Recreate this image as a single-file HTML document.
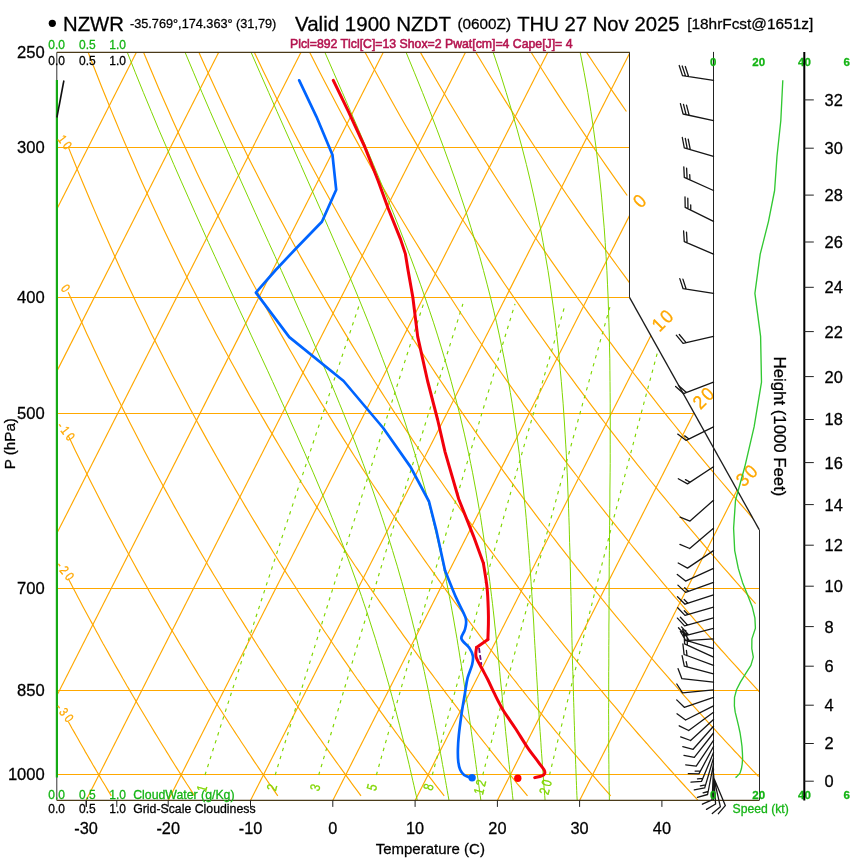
<!DOCTYPE html>
<html><head><meta charset="utf-8"><title>Skew-T NZWR</title>
<style>
html,body{margin:0;padding:0;background:#fff;}
body{width:850px;height:860px;overflow:hidden;font-family:"Liberation Sans",sans-serif;}
svg{display:block;font-family:"Liberation Sans",sans-serif;will-change:transform;}
</style></head><body>
<svg width="850" height="860" viewBox="0 0 850 860">
<rect width="850" height="860" fill="#fff"/>
<defs><clipPath id="cp"><polygon points="56.8,52.4 629.9,52.4 629.9,297.4 759.2,529.6 759.2,800.4 56.8,800.4"/></clipPath></defs>
<g clip-path="url(#cp)" stroke-width="1.15">
<line x1="56.8" y1="147.5" x2="759.2" y2="147.5" stroke="#ffa800" stroke-width="1"/>
<line x1="56.8" y1="297.5" x2="759.2" y2="297.5" stroke="#ffa800" stroke-width="1"/>
<line x1="56.8" y1="413.5" x2="759.2" y2="413.5" stroke="#ffa800" stroke-width="1"/>
<line x1="56.8" y1="588.5" x2="759.2" y2="588.5" stroke="#ffa800" stroke-width="1"/>
<line x1="56.8" y1="690.5" x2="759.2" y2="690.5" stroke="#ffa800" stroke-width="1"/>
<line x1="56.8" y1="774.5" x2="759.2" y2="774.5" stroke="#ffa800" stroke-width="1"/>
<path d="M-654.5 800.4 L-275.1 52.4" fill="none" stroke="#ffa800"/>
<path d="M-572.2 800.4 L-192.8 52.4" fill="none" stroke="#ffa800"/>
<path d="M-490.0 800.4 L-110.5 52.4" fill="none" stroke="#ffa800"/>
<path d="M-407.7 800.4 L-28.2 52.4" fill="none" stroke="#ffa800"/>
<path d="M-325.4 800.4 L54.1 52.4" fill="none" stroke="#ffa800"/>
<path d="M-243.1 800.4 L136.3 52.4" fill="none" stroke="#ffa800"/>
<path d="M-160.9 800.4 L218.6 52.4" fill="none" stroke="#ffa800"/>
<path d="M-78.6 800.4 L300.9 52.4" fill="none" stroke="#ffa800"/>
<path d="M3.7 800.4 L383.2 52.4" fill="none" stroke="#ffa800"/>
<path d="M86.0 800.4 L465.4 52.4" fill="none" stroke="#ffa800"/>
<path d="M168.2 800.4 L547.7 52.4" fill="none" stroke="#ffa800"/>
<path d="M250.5 800.4 L630.0 52.4" fill="none" stroke="#ffa800"/>
<path d="M332.8 800.4 L712.3 52.4" fill="none" stroke="#ffa800"/>
<path d="M415.1 800.4 L794.5 52.4" fill="none" stroke="#ffa800"/>
<path d="M497.4 800.4 L876.8 52.4" fill="none" stroke="#ffa800"/>
<path d="M579.6 800.4 L959.1 52.4" fill="none" stroke="#ffa800"/>
<path d="M111.3 795.9 L109.5 792.9 L107.7 789.9 L105.9 786.8 L104.1 783.8 L102.2 780.7 L100.4 777.6 L98.6 774.4 L96.7 771.3 L94.9 768.1 L93.0 765.0 L91.2 761.8 L89.3 758.6 L87.4 755.3 L85.5 752.1 L83.7 748.8 L81.8 745.5 L79.9 742.2 L78.0 738.8 L76.1 735.5 L74.2 732.1 L72.2 728.7 L70.3 725.2 L68.4 721.8 L68.2 721.4" fill="none" stroke="#ffa800"/>
<path d="M194.6 795.9 L192.6 792.9 L190.7 789.9 L188.7 786.8 L186.7 783.8 L184.8 780.7 L182.8 777.6 L180.8 774.4 L178.8 771.3 L176.8 768.1 L174.8 765.0 L172.8 761.8 L170.8 758.6 L168.8 755.3 L166.8 752.1 L164.8 748.8 L162.7 745.5 L160.7 742.2 L158.6 738.8 L156.6 735.5 L154.5 732.1 L152.5 728.7 L150.4 725.2 L148.3 721.8 L146.2 718.3 L144.1 714.8 L142.0 711.3 L139.9 707.7 L137.8 704.2 L135.7 700.6 L133.6 697.0 L131.4 693.3 L129.3 689.6 L127.1 686.0 L125.0 682.2 L122.8 678.5 L120.7 674.7 L118.5 670.9 L116.3 667.1 L114.1 663.2 L111.9 659.3 L109.7 655.4 L107.5 651.4 L105.3 647.5 L103.0 643.5 L100.8 639.4 L98.6 635.3 L96.3 631.2 L94.1 627.1 L91.8 622.9 L89.5 618.7 L87.2 614.5 L84.9 610.2 L82.6 605.9 L80.3 601.6 L78.0 597.2 L75.7 592.8 L73.3 588.3 L71.0 583.8 L68.6 579.3 L68.2 578.4" fill="none" stroke="#ffa800"/>
<path d="M277.8 795.9 L275.7 792.9 L273.6 789.9 L271.5 786.8 L269.4 783.8 L267.3 780.7 L265.2 777.6 L263.1 774.4 L260.9 771.3 L258.8 768.1 L256.7 765.0 L254.5 761.8 L252.4 758.6 L250.2 755.3 L248.0 752.1 L245.9 748.8 L243.7 745.5 L241.5 742.2 L239.3 738.8 L237.1 735.5 L234.9 732.1 L232.7 728.7 L230.4 725.2 L228.2 721.8 L226.0 718.3 L223.7 714.8 L221.5 711.3 L219.2 707.7 L217.0 704.2 L214.7 700.6 L212.4 697.0 L210.1 693.3 L207.8 689.6 L205.5 686.0 L203.2 682.2 L200.9 678.5 L198.5 674.7 L196.2 670.9 L193.9 667.1 L191.5 663.2 L189.1 659.3 L186.8 655.4 L184.4 651.4 L182.0 647.5 L179.6 643.5 L177.2 639.4 L174.8 635.3 L172.4 631.2 L169.9 627.1 L167.5 622.9 L165.0 618.7 L162.6 614.5 L160.1 610.2 L157.6 605.9 L155.1 601.6 L152.6 597.2 L150.1 592.8 L147.6 588.3 L145.1 583.8 L142.5 579.3 L140.0 574.7 L137.4 570.1 L134.9 565.5 L132.3 560.8 L129.7 556.0 L127.1 551.2 L124.5 546.4 L121.9 541.5 L119.2 536.6 L116.6 531.7 L113.9 526.6 L111.3 521.6 L108.6 516.5 L105.9 511.3 L103.2 506.1 L100.5 500.8 L97.8 495.5 L95.0 490.1 L92.3 484.7 L89.5 479.2 L86.8 473.7 L84.0 468.1 L81.2 462.4 L78.4 456.7 L75.5 450.9 L72.7 445.0 L69.9 439.1 L68.2 435.7" fill="none" stroke="#ffa800"/>
<path d="M361.0 795.9 L358.8 792.9 L356.6 789.9 L354.3 786.8 L352.1 783.8 L349.8 780.7 L347.6 777.6 L345.3 774.4 L343.1 771.3 L340.8 768.1 L338.5 765.0 L336.2 761.8 L333.9 758.6 L331.6 755.3 L329.3 752.1 L327.0 748.8 L324.6 745.5 L322.3 742.2 L320.0 738.8 L317.6 735.5 L315.3 732.1 L312.9 728.7 L310.5 725.2 L308.1 721.8 L305.7 718.3 L303.3 714.8 L300.9 711.3 L298.5 707.7 L296.1 704.2 L293.7 700.6 L291.2 697.0 L288.8 693.3 L286.3 689.6 L283.9 686.0 L281.4 682.2 L278.9 678.5 L276.4 674.7 L273.9 670.9 L271.4 667.1 L268.9 663.2 L266.4 659.3 L263.8 655.4 L261.3 651.4 L258.7 647.5 L256.2 643.5 L253.6 639.4 L251.0 635.3 L248.4 631.2 L245.8 627.1 L243.2 622.9 L240.6 618.7 L237.9 614.5 L235.3 610.2 L232.6 605.9 L230.0 601.6 L227.3 597.2 L224.6 592.8 L221.9 588.3 L219.2 583.8 L216.5 579.3 L213.7 574.7 L211.0 570.1 L208.2 565.5 L205.5 560.8 L202.7 556.0 L199.9 551.2 L197.1 546.4 L194.3 541.5 L191.4 536.6 L188.6 531.7 L185.8 526.6 L182.9 521.6 L180.0 516.5 L177.1 511.3 L174.2 506.1 L171.3 500.8 L168.4 495.5 L165.4 490.1 L162.5 484.7 L159.5 479.2 L156.5 473.7 L153.5 468.1 L150.5 462.4 L147.5 456.7 L144.4 450.9 L141.4 445.0 L138.3 439.1 L135.2 433.1 L132.1 427.1 L129.0 420.9 L125.9 414.7 L122.7 408.4 L119.5 402.1 L116.3 395.7 L113.1 389.1 L109.9 382.5 L106.7 375.9 L103.4 369.1 L100.2 362.2 L96.9 355.3 L93.6 348.2 L90.3 341.1 L86.9 333.9 L83.6 326.5 L80.2 319.1 L76.8 311.5 L73.4 303.9 L69.9 296.1 L68.2 292.2" fill="none" stroke="#ffa800"/>
<path d="M444.2 795.9 L441.9 792.9 L439.5 789.9 L437.1 786.8 L434.8 783.8 L432.4 780.7 L430.0 777.6 L427.6 774.4 L425.2 771.3 L422.7 768.1 L420.3 765.0 L417.9 761.8 L415.4 758.6 L413.0 755.3 L410.5 752.1 L408.1 748.8 L405.6 745.5 L403.1 742.2 L400.6 738.8 L398.1 735.5 L395.6 732.1 L393.1 728.7 L390.6 725.2 L388.0 721.8 L385.5 718.3 L383.0 714.8 L380.4 711.3 L377.8 707.7 L375.2 704.2 L372.7 700.6 L370.1 697.0 L367.5 693.3 L364.8 689.6 L362.2 686.0 L359.6 682.2 L356.9 678.5 L354.3 674.7 L351.6 670.9 L349.0 667.1 L346.3 663.2 L343.6 659.3 L340.9 655.4 L338.2 651.4 L335.4 647.5 L332.7 643.5 L330.0 639.4 L327.2 635.3 L324.4 631.2 L321.7 627.1 L318.9 622.9 L316.1 618.7 L313.3 614.5 L310.5 610.2 L307.6 605.9 L304.8 601.6 L301.9 597.2 L299.0 592.8 L296.2 588.3 L293.3 583.8 L290.4 579.3 L287.5 574.7 L284.5 570.1 L281.6 565.5 L278.6 560.8 L275.7 556.0 L272.7 551.2 L269.7 546.4 L266.7 541.5 L263.6 536.6 L260.6 531.7 L257.6 526.6 L254.5 521.6 L251.4 516.5 L248.3 511.3 L245.2 506.1 L242.1 500.8 L239.0 495.5 L235.8 490.1 L232.7 484.7 L229.5 479.2 L226.3 473.7 L223.1 468.1 L219.8 462.4 L216.6 456.7 L213.3 450.9 L210.0 445.0 L206.7 439.1 L203.4 433.1 L200.1 427.1 L196.8 420.9 L193.4 414.7 L190.0 408.4 L186.6 402.1 L183.2 395.7 L179.7 389.1 L176.3 382.5 L172.8 375.9 L169.3 369.1 L165.8 362.2 L162.3 355.3 L158.7 348.2 L155.1 341.1 L151.5 333.9 L147.9 326.5 L144.3 319.1 L140.6 311.5 L136.9 303.9 L133.2 296.1 L129.5 288.2 L125.7 280.2 L121.9 272.0 L118.1 263.7 L114.3 255.3 L110.5 246.8 L106.6 238.1 L102.7 229.3 L98.7 220.3 L94.8 211.1 L90.8 201.8 L86.8 192.3 L82.8 182.7 L78.7 172.9 L74.6 162.8 L70.5 152.6 L68.2 146.8" fill="none" stroke="#ffa800"/>
<path d="M527.5 795.9 L525.0 792.9 L522.5 789.9 L520.0 786.8 L517.4 783.8 L514.9 780.7 L512.4 777.6 L509.8 774.4 L507.3 771.3 L504.7 768.1 L502.1 765.0 L499.6 761.8 L497.0 758.6 L494.4 755.3 L491.8 752.1 L489.2 748.8 L486.6 745.5 L483.9 742.2 L481.3 738.8 L478.6 735.5 L476.0 732.1 L473.3 728.7 L470.6 725.2 L468.0 721.8 L465.3 718.3 L462.6 714.8 L459.8 711.3 L457.1 707.7 L454.4 704.2 L451.7 700.6 L448.9 697.0 L446.1 693.3 L443.4 689.6 L440.6 686.0 L437.8 682.2 L435.0 678.5 L432.2 674.7 L429.3 670.9 L426.5 667.1 L423.7 663.2 L420.8 659.3 L417.9 655.4 L415.1 651.4 L412.2 647.5 L409.3 643.5 L406.4 639.4 L403.4 635.3 L400.5 631.2 L397.5 627.1 L394.6 622.9 L391.6 618.7 L388.6 614.5 L385.6 610.2 L382.6 605.9 L379.6 601.6 L376.6 597.2 L373.5 592.8 L370.4 588.3 L367.4 583.8 L364.3 579.3 L361.2 574.7 L358.1 570.1 L354.9 565.5 L351.8 560.8 L348.6 556.0 L345.5 551.2 L342.3 546.4 L339.1 541.5 L335.9 536.6 L332.6 531.7 L329.4 526.6 L326.1 521.6 L322.8 516.5 L319.5 511.3 L316.2 506.1 L312.9 500.8 L309.6 495.5 L306.2 490.1 L302.8 484.7 L299.4 479.2 L296.0 473.7 L292.6 468.1 L289.2 462.4 L285.7 456.7 L282.2 450.9 L278.7 445.0 L275.2 439.1 L271.7 433.1 L268.1 427.1 L264.5 420.9 L260.9 414.7 L257.3 408.4 L253.7 402.1 L250.0 395.7 L246.3 389.1 L242.6 382.5 L238.9 375.9 L235.2 369.1 L231.4 362.2 L227.6 355.3 L223.8 348.2 L220.0 341.1 L216.1 333.9 L212.3 326.5 L208.3 319.1 L204.4 311.5 L200.5 303.9 L196.5 296.1 L192.5 288.2 L188.4 280.2 L184.4 272.0 L180.3 263.7 L176.2 255.3 L172.1 246.8 L167.9 238.1 L163.7 229.3 L159.5 220.3 L155.2 211.1 L150.9 201.8 L146.6 192.3 L142.2 182.7 L137.9 172.9 L133.5 162.8 L129.0 152.6 L124.5 142.2 L120.0 131.6 L115.5 120.7 L110.9 109.6 L106.3 98.3 L101.6 86.7 L96.9 74.8 L92.2 62.7 L87.4 50.3 L84.2 41.9" fill="none" stroke="#ffa800"/>
<path d="M610.7 795.9 L608.1 792.9 L605.4 789.9 L602.8 786.8 L600.1 783.8 L597.4 780.7 L594.8 777.6 L592.1 774.4 L589.4 771.3 L586.7 768.1 L584.0 765.0 L581.3 761.8 L578.5 758.6 L575.8 755.3 L573.0 752.1 L570.3 748.8 L567.5 745.5 L564.7 742.2 L561.9 738.8 L559.2 735.5 L556.3 732.1 L553.5 728.7 L550.7 725.2 L547.9 721.8 L545.0 718.3 L542.2 714.8 L539.3 711.3 L536.4 707.7 L533.5 704.2 L530.6 700.6 L527.7 697.0 L524.8 693.3 L521.9 689.6 L518.9 686.0 L516.0 682.2 L513.0 678.5 L510.0 674.7 L507.1 670.9 L504.1 667.1 L501.1 663.2 L498.0 659.3 L495.0 655.4 L492.0 651.4 L488.9 647.5 L485.8 643.5 L482.7 639.4 L479.6 635.3 L476.5 631.2 L473.4 627.1 L470.3 622.9 L467.1 618.7 L464.0 614.5 L460.8 610.2 L457.6 605.9 L454.4 601.6 L451.2 597.2 L448.0 592.8 L444.7 588.3 L441.5 583.8 L438.2 579.3 L434.9 574.7 L431.6 570.1 L428.3 565.5 L425.0 560.8 L421.6 556.0 L418.2 551.2 L414.9 546.4 L411.5 541.5 L408.1 536.6 L404.6 531.7 L401.2 526.6 L397.7 521.6 L394.2 516.5 L390.7 511.3 L387.2 506.1 L383.7 500.8 L380.2 495.5 L376.6 490.1 L373.0 484.7 L369.4 479.2 L365.8 473.7 L362.1 468.1 L358.5 462.4 L354.8 456.7 L351.1 450.9 L347.4 445.0 L343.6 439.1 L339.9 433.1 L336.1 427.1 L332.3 420.9 L328.5 414.7 L324.6 408.4 L320.7 402.1 L316.9 395.7 L312.9 389.1 L309.0 382.5 L305.0 375.9 L301.0 369.1 L297.0 362.2 L293.0 355.3 L288.9 348.2 L284.9 341.1 L280.7 333.9 L276.6 326.5 L272.4 319.1 L268.2 311.5 L264.0 303.9 L259.8 296.1 L255.5 288.2 L251.2 280.2 L246.8 272.0 L242.5 263.7 L238.1 255.3 L233.7 246.8 L229.2 238.1 L224.7 229.3 L220.2 220.3 L215.6 211.1 L211.0 201.8 L206.4 192.3 L201.7 182.7 L197.0 172.9 L192.3 162.8 L187.5 152.6 L182.7 142.2 L177.8 131.6 L172.9 120.7 L168.0 109.6 L163.0 98.3 L158.0 86.7 L153.0 74.8 L147.9 62.7 L142.7 50.3 L139.3 41.9" fill="none" stroke="#ffa800"/>
<path d="M697.8 800.2 L695.1 797.2 L692.3 794.2 L689.5 791.1 L686.7 788.1 L683.9 785.0 L681.1 782.0 L678.3 778.9 L675.5 775.8 L672.7 772.6 L669.8 769.5 L667.0 766.3 L664.1 763.1 L661.3 759.9 L658.4 756.7 L655.5 753.4 L652.6 750.2 L649.7 746.9 L646.8 743.5 L643.8 740.2 L640.9 736.9 L637.9 733.5 L635.0 730.1 L632.0 726.7 L629.0 723.2 L626.0 719.8 L623.0 716.3 L620.0 712.8 L617.0 709.2 L614.0 705.7 L610.9 702.1 L607.8 698.5 L604.8 694.8 L601.7 691.2 L598.6 687.5 L595.5 683.8 L592.4 680.0 L589.2 676.3 L586.1 672.5 L582.9 668.7 L579.8 664.8 L576.6 660.9 L573.4 657.0 L570.2 653.1 L567.0 649.1 L563.7 645.1 L560.5 641.1 L557.2 637.0 L553.9 633.0 L550.7 628.8 L547.4 624.7 L544.0 620.5 L540.7 616.3 L537.4 612.0 L534.0 607.7 L530.6 603.4 L527.2 599.0 L523.8 594.6 L520.4 590.2 L517.0 585.7 L513.5 581.2 L510.1 576.6 L506.6 572.0 L503.1 567.4 L499.6 562.7 L496.1 558.0 L492.5 553.2 L488.9 548.4 L485.4 543.6 L481.8 538.7 L478.1 533.7 L474.5 528.7 L470.9 523.7 L467.2 518.6 L463.5 513.5 L459.8 508.3 L456.1 503.0 L452.3 497.7 L448.6 492.4 L444.8 487.0 L441.0 481.5 L437.1 476.0 L433.3 470.4 L429.4 464.8 L425.5 459.1 L421.6 453.3 L417.7 447.5 L413.7 441.6 L409.8 435.6 L405.8 429.6 L401.7 423.5 L397.7 417.3 L393.6 411.1 L389.5 404.7 L385.4 398.3 L381.3 391.9 L377.1 385.3 L372.9 378.7 L368.7 371.9 L364.4 365.1 L360.2 358.2 L355.9 351.2 L351.5 344.1 L347.2 336.9 L342.8 329.6 L338.4 322.2 L333.9 314.7 L329.5 307.1 L324.9 299.3 L320.4 291.5 L315.8 283.5 L311.2 275.4 L306.6 267.2 L301.9 258.9 L297.2 250.4 L292.5 241.7 L287.7 233.0 L282.9 224.0 L278.0 215.0 L273.2 205.7 L268.2 196.3 L263.3 186.7 L258.3 177.0 L253.2 167.0 L248.1 156.9 L243.0 146.6 L237.8 136.0 L232.6 125.2 L227.4 114.3 L222.1 103.0 L216.7 91.5 L211.3 79.8 L205.8 67.8 L200.3 55.5 L194.8 42.9 L194.3 41.9" fill="none" stroke="#ffa800"/>
<path d="M758.6 776.5 L755.6 773.4 L752.6 770.3 L749.6 767.1 L746.6 763.9 L743.6 760.7 L740.6 757.5 L737.6 754.2 L734.5 751.0 L731.5 747.7 L728.4 744.4 L725.3 741.1 L722.2 737.7 L719.1 734.3 L716.0 730.9 L712.9 727.5 L709.8 724.1 L706.6 720.6 L703.5 717.1 L700.3 713.6 L697.2 710.1 L694.0 706.6 L690.8 703.0 L687.5 699.4 L684.3 695.8 L681.1 692.1 L677.8 688.4 L674.6 684.7 L671.3 681.0 L668.0 677.2 L664.7 673.4 L661.4 669.6 L658.1 665.8 L654.7 661.9 L651.4 658.0 L648.0 654.1 L644.6 650.1 L641.2 646.1 L637.8 642.1 L634.4 638.1 L630.9 634.0 L627.5 629.9 L624.0 625.7 L620.5 621.5 L617.0 617.3 L613.5 613.1 L610.0 608.8 L606.4 604.5 L602.9 600.1 L599.3 595.7 L595.7 591.3 L592.1 586.8 L588.4 582.3 L584.8 577.8 L581.1 573.2 L577.4 568.6 L573.8 563.9 L570.0 559.2 L566.3 554.4 L562.6 549.6 L558.8 544.8 L555.0 539.9 L551.2 535.0 L547.4 530.0 L543.5 525.0 L539.6 519.9 L535.8 514.8 L531.9 509.6 L527.9 504.4 L524.0 499.1 L520.0 493.7 L516.0 488.3 L512.0 482.9 L508.0 477.4 L503.9 471.8 L499.9 466.2 L495.8 460.5 L491.6 454.8 L487.5 448.9 L483.3 443.1 L479.1 437.1 L474.9 431.1 L470.7 425.0 L466.4 418.9 L462.1 412.6 L457.8 406.3 L453.4 400.0 L449.1 393.5 L444.7 386.9 L440.2 380.3 L435.8 373.6 L431.3 366.8 L426.8 359.9 L422.2 352.9 L417.7 345.9 L413.0 338.7 L408.4 331.4 L403.7 324.0 L399.0 316.6 L394.3 309.0 L389.5 301.3 L384.7 293.5 L379.9 285.5 L375.0 277.5 L370.1 269.3 L365.2 261.0 L360.2 252.5 L355.2 243.9 L350.1 235.2 L345.0 226.3 L339.9 217.2 L334.7 208.0 L329.5 198.7 L324.2 189.2 L318.9 179.4 L313.5 169.5 L308.1 159.5 L302.7 149.2 L297.2 138.7 L291.6 128.0 L286.1 117.0 L280.4 105.9 L274.7 94.4 L269.0 82.8 L263.1 70.8 L257.3 58.6 L251.4 46.1 L249.4 41.9" fill="none" stroke="#ffa800"/>
<path d="M759.1 691.5 L755.7 687.8 L752.3 684.1 L748.9 680.4 L745.4 676.6 L741.9 672.8 L738.5 669.0 L735.0 665.1 L731.5 661.3 L727.9 657.4 L724.4 653.4 L720.8 649.5 L717.3 645.5 L713.7 641.4 L710.1 637.4 L706.5 633.3 L702.9 629.2 L699.2 625.0 L695.5 620.8 L691.9 616.6 L688.2 612.4 L684.5 608.1 L680.7 603.7 L677.0 599.4 L673.2 595.0 L669.4 590.5 L665.6 586.1 L661.8 581.6 L658.0 577.0 L654.2 572.4 L650.3 567.8 L646.4 563.1 L642.5 558.4 L638.6 553.6 L634.6 548.8 L630.6 544.0 L626.7 539.1 L622.7 534.1 L618.6 529.2 L614.6 524.1 L610.5 519.0 L606.4 513.9 L602.3 508.7 L598.2 503.5 L594.0 498.2 L589.8 492.8 L585.6 487.4 L581.4 482.0 L577.2 476.5 L572.9 470.9 L568.6 465.3 L564.3 459.6 L559.9 453.8 L555.6 448.0 L551.2 442.1 L546.8 436.1 L542.3 430.1 L537.8 424.0 L533.3 417.8 L528.8 411.6 L524.2 405.3 L519.7 398.9 L515.0 392.4 L510.4 385.9 L505.7 379.2 L501.0 372.5 L496.3 365.7 L491.5 358.8 L486.7 351.8 L481.9 344.7 L477.0 337.5 L472.1 330.2 L467.2 322.8 L462.2 315.3 L457.2 307.7 L452.2 300.0 L447.1 292.1 L442.0 284.2 L436.8 276.1 L431.6 267.9 L426.4 259.6 L421.1 251.1 L415.8 242.5 L410.4 233.7 L405.0 224.8 L399.6 215.7 L394.1 206.5 L388.5 197.1 L383.0 187.5 L377.3 177.8 L371.6 167.9 L365.9 157.8 L360.1 147.4 L354.3 136.9 L348.4 126.2 L342.4 115.2 L336.4 104.0 L330.4 92.5 L324.2 80.8 L318.0 68.8 L311.8 56.6 L305.5 44.0 L304.4 41.9" fill="none" stroke="#ffa800"/>
<path d="M755.6 603.7 L751.7 599.4 L747.8 595.0 L743.8 590.5 L739.8 586.1 L735.8 581.6 L731.8 577.0 L727.8 572.4 L723.7 567.8 L719.6 563.1 L715.6 558.4 L711.4 553.6 L707.3 548.8 L703.1 544.0 L699.0 539.1 L694.8 534.1 L690.5 529.2 L686.3 524.1 L682.0 519.0 L677.7 513.9 L673.4 508.7 L669.1 503.5 L664.7 498.2 L660.3 492.8 L655.9 487.4 L651.5 482.0 L647.0 476.5 L642.6 470.9 L638.0 465.3 L633.5 459.6 L628.9 453.8 L624.4 448.0 L619.7 442.1 L615.1 436.1 L610.4 430.1 L605.7 424.0 L601.0 417.8 L596.2 411.6 L591.4 405.3 L586.6 398.9 L581.8 392.4 L576.9 385.9 L572.0 379.2 L567.0 372.5 L562.0 365.7 L557.0 358.8 L552.0 351.8 L546.9 344.7 L541.8 337.5 L536.6 330.2 L531.4 322.8 L526.2 315.3 L520.9 307.7 L515.6 300.0 L510.2 292.1 L504.8 284.2 L499.4 276.1 L493.9 267.9 L488.4 259.6 L482.8 251.1 L477.2 242.5 L471.6 233.7 L465.9 224.8 L460.1 215.7 L454.3 206.5 L448.5 197.1 L442.6 187.5 L436.6 177.8 L430.6 167.9 L424.6 157.8 L418.4 147.4 L412.3 136.9 L406.0 126.2 L399.7 115.2 L393.4 104.0 L387.0 92.5 L380.5 80.8 L373.9 68.8 L367.3 56.6 L360.6 44.0 L359.5 41.9" fill="none" stroke="#ffa800"/>
<path d="M758.0 524.1 L753.5 519.0 L749.0 513.9 L744.5 508.7 L740.0 503.5 L735.4 498.2 L730.8 492.8 L726.2 487.4 L721.6 482.0 L716.9 476.5 L712.2 470.9 L707.5 465.3 L702.7 459.6 L697.9 453.8 L693.1 448.0 L688.3 442.1 L683.4 436.1 L678.5 430.1 L673.6 424.0 L668.6 417.8 L663.6 411.6 L658.6 405.3 L653.6 398.9 L648.5 392.4 L643.4 385.9 L638.2 379.2 L633.0 372.5 L627.8 365.7 L622.5 358.8 L617.2 351.8 L611.9 344.7 L606.5 337.5 L601.1 330.2 L595.6 322.8 L590.1 315.3 L584.6 307.7 L579.0 300.0 L573.4 292.1 L567.7 284.2 L562.0 276.1 L556.2 267.9 L550.4 259.6 L544.6 251.1 L538.7 242.5 L532.7 233.7 L526.7 224.8 L520.7 215.7 L514.6 206.5 L508.4 197.1 L502.2 187.5 L495.9 177.8 L489.6 167.9 L483.2 157.8 L476.8 147.4 L470.3 136.9 L463.7 126.2 L457.1 115.2 L450.3 104.0 L443.6 92.5 L436.7 80.8 L429.8 68.8 L422.8 56.6 L415.7 44.0 L414.5 41.9" fill="none" stroke="#ffa800"/>
<path d="M635.5 290.8 L629.6 282.8 L623.6 274.7 L617.6 266.5 L611.5 258.1 L605.3 249.7 L599.1 241.0 L592.9 232.2 L586.5 223.3 L580.2 214.2 L573.8 204.9 L567.3 195.5 L560.8 185.9 L554.2 176.2 L547.5 166.2 L540.8 156.0 L534.0 145.7 L527.1 135.1 L520.2 124.3 L513.2 113.3 L506.1 102.1 L499.0 90.6 L491.8 78.8 L484.5 66.8 L477.1 54.5 L469.6 41.9" fill="none" stroke="#ffa800"/>
<path d="M627.2 195.5 L620.3 185.9 L613.4 176.2 L606.4 166.2 L599.4 156.0 L592.3 145.7 L585.1 135.1 L577.8 124.3 L570.4 113.3 L563.0 102.1 L555.5 90.6 L547.9 78.8 L540.3 66.8 L532.5 54.5 L524.7 41.9" fill="none" stroke="#ffa800"/>
<path d="M626.4 111.5 L618.6 100.2 L610.7 88.6 L602.8 76.8 L594.7 64.8 L586.6 52.4 L579.7 41.9" fill="none" stroke="#ffa800"/>
<path d="M417.3 800.4 L416.2 795.4 L415.0 790.4 L413.9 785.3 L412.7 780.2 L411.5 775.0 L410.3 769.7 L409.1 764.4 L407.8 759.1 L406.5 753.7 L405.2 748.2 L403.9 742.7 L402.5 737.1 L401.1 731.5 L399.7 725.8 L398.2 720.1 L396.7 714.2 L395.2 708.3 L393.6 702.4 L392.0 696.4 L390.3 690.3 L388.7 684.1 L386.9 677.9 L385.1 671.5 L383.3 665.1 L381.4 658.7 L379.4 652.1 L377.4 645.5 L375.4 638.7 L373.2 631.9 L371.0 625.0 L368.8 618.0 L366.5 610.9 L364.0 603.7 L361.6 596.5 L359.0 589.1 L356.4 581.6 L353.6 574.0 L350.8 566.2 L347.9 558.4 L344.9 550.4 L341.8 542.4 L338.6 534.1 L335.3 525.8 L331.9 517.3 L328.4 508.7 L324.8 500.0 L321.0 491.0 L317.2 482.0 L313.3 472.8 L309.2 463.4 L305.1 453.8 L300.8 444.1 L296.4 434.1 L291.8 424.0 L287.2 413.7 L282.4 403.2 L277.5 392.4 L272.5 381.4 L267.4 370.2 L262.1 358.8 L256.7 347.1 L251.1 335.1 L245.5 322.8 L239.6 310.2 L233.7 297.4 L227.6 284.2 L221.4 270.6 L215.0 256.7 L208.5 242.5 L201.9 227.8 L195.1 212.7 L188.2 197.1 L181.1 181.1 L173.8 164.5 L166.5 147.4 L158.9 129.8 L151.3 111.5 L143.4 92.5 L135.4 72.8 L127.3 52.4" fill="none" stroke="#80d600" stroke-width="1"/>
<path d="M449.0 800.4 L448.1 795.4 L447.2 790.4 L446.3 785.3 L445.4 780.2 L444.4 775.0 L443.5 769.7 L442.5 764.4 L441.6 759.1 L440.6 753.7 L439.5 748.2 L438.5 742.7 L437.5 737.1 L436.4 731.5 L435.3 725.8 L434.2 720.1 L433.1 714.2 L431.9 708.3 L430.7 702.4 L429.5 696.4 L428.3 690.3 L427.0 684.1 L425.6 677.9 L424.3 671.5 L422.8 665.1 L421.4 658.7 L419.8 652.1 L418.2 645.5 L416.6 638.7 L415.0 631.9 L413.2 625.0 L411.5 618.0 L409.6 610.9 L407.7 603.7 L405.8 596.5 L403.8 589.1 L401.7 581.6 L399.5 574.0 L397.3 566.2 L394.9 558.4 L392.5 550.4 L390.0 542.4 L387.5 534.1 L384.8 525.8 L382.0 517.3 L379.1 508.7 L376.1 500.0 L373.0 491.0 L369.8 482.0 L366.5 472.8 L363.0 463.4 L359.4 453.8 L355.7 444.1 L351.8 434.1 L347.8 424.0 L343.6 413.7 L339.3 403.2 L334.9 392.4 L330.3 381.4 L325.5 370.2 L320.6 358.8 L315.5 347.1 L310.3 335.1 L304.8 322.8 L299.2 310.2 L293.5 297.4 L287.5 284.2 L281.4 270.6 L275.2 256.7 L268.7 242.5 L262.0 227.8 L255.2 212.7 L248.2 197.1 L241.0 181.1 L233.6 164.5 L226.0 147.4 L218.2 129.8 L210.2 111.5 L202.0 92.5 L193.7 72.8 L185.1 52.4" fill="none" stroke="#80d600" stroke-width="1"/>
<path d="M480.9 800.4 L480.2 795.4 L479.5 790.4 L478.8 785.3 L478.1 780.2 L477.3 775.0 L476.6 769.7 L475.9 764.4 L475.2 759.1 L474.4 753.7 L473.7 748.2 L472.9 742.7 L472.1 737.1 L471.3 731.5 L470.5 725.8 L469.7 720.1 L468.8 714.2 L467.9 708.3 L467.0 702.4 L466.1 696.4 L465.2 690.3 L464.2 684.1 L463.3 677.9 L462.3 671.5 L461.3 665.1 L460.2 658.7 L459.2 652.1 L458.1 645.5 L457.0 638.7 L455.8 631.9 L454.6 625.0 L453.4 618.0 L452.1 610.9 L450.8 603.7 L449.4 596.5 L448.0 589.1 L446.5 581.6 L445.0 574.0 L443.4 566.2 L441.7 558.4 L440.0 550.4 L438.2 542.4 L436.3 534.1 L434.3 525.8 L432.3 517.3 L430.1 508.7 L427.9 500.0 L425.5 491.0 L423.0 482.0 L420.4 472.8 L417.7 463.4 L414.9 453.8 L411.9 444.1 L408.8 434.1 L405.6 424.0 L402.2 413.7 L398.6 403.2 L394.9 392.4 L390.9 381.4 L386.9 370.2 L382.6 358.8 L378.1 347.1 L373.5 335.1 L368.6 322.8 L363.5 310.2 L358.3 297.4 L352.8 284.2 L347.1 270.6 L341.1 256.7 L334.9 242.5 L328.5 227.8 L321.9 212.7 L315.0 197.1 L307.9 181.1 L300.6 164.5 L293.0 147.4 L285.1 129.8 L277.0 111.5 L268.7 92.5 L260.0 72.8 L251.1 52.4" fill="none" stroke="#80d600" stroke-width="1"/>
<path d="M513.1 800.4 L512.5 795.4 L512.0 790.4 L511.4 785.3 L510.8 780.2 L510.3 775.0 L509.7 769.7 L509.1 764.4 L508.5 759.1 L507.9 753.7 L507.4 748.2 L506.8 742.7 L506.2 737.1 L505.6 731.5 L505.1 725.8 L504.5 720.1 L503.9 714.2 L503.3 708.3 L502.7 702.4 L502.2 696.4 L501.6 690.3 L500.9 684.1 L500.3 677.9 L499.7 671.5 L499.1 665.1 L498.4 658.7 L497.7 652.1 L497.0 645.5 L496.3 638.7 L495.6 631.9 L494.8 625.0 L494.1 618.0 L493.3 610.9 L492.5 603.7 L491.6 596.5 L490.7 589.1 L489.8 581.6 L488.8 574.0 L487.8 566.2 L486.7 558.4 L485.6 550.4 L484.4 542.4 L483.2 534.1 L481.9 525.8 L480.6 517.3 L479.1 508.7 L477.6 500.0 L476.0 491.0 L474.3 482.0 L472.6 472.8 L470.7 463.4 L468.7 453.8 L466.6 444.1 L464.4 434.1 L462.0 424.0 L459.6 413.7 L456.9 403.2 L454.1 392.4 L451.2 381.4 L448.0 370.2 L444.7 358.8 L441.2 347.1 L437.5 335.1 L433.6 322.8 L429.4 310.2 L425.0 297.4 L420.4 284.2 L415.5 270.6 L410.3 256.7 L404.9 242.5 L399.2 227.8 L393.2 212.7 L386.9 197.1 L380.3 181.1 L373.4 164.5 L366.1 147.4 L358.6 129.8 L350.6 111.5 L342.4 92.5 L333.8 72.8 L324.9 52.4" fill="none" stroke="#80d600" stroke-width="1"/>
<path d="M545.1 800.4 L544.7 795.4 L544.3 790.4 L543.9 785.3 L543.5 780.2 L543.2 775.0 L542.8 769.7 L542.4 764.4 L542.0 759.1 L541.6 753.7 L541.2 748.2 L540.9 742.7 L540.5 737.1 L540.1 731.5 L539.7 725.8 L539.3 720.1 L539.0 714.2 L538.6 708.3 L538.2 702.4 L537.9 696.4 L537.5 690.3 L537.2 684.1 L536.8 677.9 L536.4 671.5 L536.1 665.1 L535.7 658.7 L535.3 652.1 L534.9 645.5 L534.5 638.7 L534.1 631.9 L533.8 625.0 L533.4 618.0 L532.9 610.9 L532.5 603.7 L532.0 596.5 L531.5 589.1 L531.0 581.6 L530.5 574.0 L530.0 566.2 L529.4 558.4 L528.8 550.4 L528.2 542.4 L527.5 534.1 L526.8 525.8 L526.1 517.3 L525.3 508.7 L524.4 500.0 L523.5 491.0 L522.6 482.0 L521.5 472.8 L520.4 463.4 L519.3 453.8 L518.0 444.1 L516.7 434.1 L515.2 424.0 L513.7 413.7 L512.1 403.2 L510.3 392.4 L508.4 381.4 L506.3 370.2 L504.2 358.8 L501.8 347.1 L499.3 335.1 L496.6 322.8 L493.6 310.2 L490.5 297.4 L487.1 284.2 L483.5 270.6 L479.7 256.7 L475.5 242.5 L471.0 227.8 L466.3 212.7 L461.1 197.1 L455.7 181.1 L449.8 164.5 L443.6 147.4 L437.0 129.8 L430.0 111.5 L422.5 92.5 L414.5 72.8 L406.1 52.4" fill="none" stroke="#80d600" stroke-width="1"/>
<path d="M577.2 800.4 L576.9 795.4 L576.7 790.4 L576.5 785.3 L576.3 780.2 L576.1 775.0 L575.9 769.7 L575.7 764.4 L575.5 759.1 L575.3 753.7 L575.1 748.2 L574.9 742.7 L574.7 737.1 L574.6 731.5 L574.4 725.8 L574.2 720.1 L574.0 714.2 L573.9 708.3 L573.7 702.4 L573.5 696.4 L573.4 690.3 L573.2 684.1 L573.0 677.9 L572.8 671.5 L572.6 665.1 L572.4 658.7 L572.3 652.1 L572.1 645.5 L571.9 638.7 L571.8 631.9 L571.6 625.0 L571.5 618.0 L571.3 610.9 L571.1 603.7 L571.0 596.5 L570.8 589.1 L570.6 581.6 L570.5 574.0 L570.3 566.2 L570.1 558.4 L569.9 550.4 L569.6 542.4 L569.4 534.1 L569.2 525.8 L568.9 517.3 L568.6 508.7 L568.3 500.0 L567.9 491.0 L567.6 482.0 L567.2 472.8 L566.7 463.4 L566.3 453.8 L565.7 444.1 L565.1 434.1 L564.5 424.0 L563.8 413.7 L563.1 403.2 L562.2 392.4 L561.3 381.4 L560.3 370.2 L559.2 358.8 L558.1 347.1 L556.8 335.1 L555.3 322.8 L553.7 310.2 L551.9 297.4 L550.1 284.2 L548.0 270.6 L545.6 256.7 L543.1 242.5 L540.4 227.8 L537.3 212.7 L534.0 197.1 L530.4 181.1 L526.4 164.5 L522.0 147.4 L517.2 129.8 L511.9 111.5 L506.2 92.5 L500.0 72.8 L493.2 52.4" fill="none" stroke="#80d600" stroke-width="1"/>
<path d="M609.4 800.4 L609.3 795.4 L609.2 790.4 L609.1 785.3 L609.0 780.2 L609.0 775.0 L608.9 769.7 L608.9 764.4 L608.8 759.1 L608.8 753.7 L608.7 748.2 L608.7 742.7 L608.7 737.1 L608.7 731.5 L608.7 725.8 L608.7 720.1 L608.6 714.2 L608.6 708.3 L608.7 702.4 L608.7 696.4 L608.7 690.3 L608.7 684.1 L608.7 677.9 L608.7 671.5 L608.8 665.1 L608.8 658.7 L608.8 652.1 L608.8 645.5 L608.9 638.7 L608.9 631.9 L608.9 625.0 L609.0 618.0 L609.0 610.9 L609.1 603.7 L609.1 596.5 L609.1 589.1 L609.1 581.6 L609.2 574.0 L609.2 566.2 L609.3 558.4 L609.4 550.4 L609.5 542.4 L609.5 534.1 L609.6 525.8 L609.7 517.3 L609.8 508.7 L609.9 500.0 L609.9 491.0 L610.0 482.0 L610.1 472.8 L610.2 463.4 L610.2 453.8 L610.2 444.1 L610.2 434.1 L610.3 424.0 L610.2 413.7 L610.2 403.2 L610.1 392.4 L610.0 381.4 L609.9 370.2 L609.8 358.8 L609.5 347.1 L609.3 335.1 L608.9 322.8 L608.5 310.2 L608.1 297.4 L607.5 284.2 L606.9 270.6 L606.1 256.7 L605.2 242.5 L604.2 227.8 L602.9 212.7 L601.6 197.1 L600.0 181.1 L598.1 164.5 L596.0 147.4 L593.6 129.8 L590.9 111.5 L587.8 92.5 L584.2 72.8 L580.2 52.4" fill="none" stroke="#80d600" stroke-width="1"/>
<path d="M205.0 775.0 L207.9 766.0 L210.8 756.9 L213.7 747.7 L216.8 738.3 L219.8 728.7 L223.0 718.9 L226.2 708.9 L229.5 698.8 L232.8 688.4 L236.2 677.9 L239.7 667.1 L243.3 656.0 L246.9 644.8 L250.7 633.3 L254.5 621.5 L258.4 609.5 L262.4 597.2 L266.5 584.6 L270.8 571.6 L275.1 558.4 L279.6 544.8 L284.1 530.8 L288.9 516.5 L293.7 501.7 L298.7 486.5 L303.9 470.9 L309.2 454.8 L314.7 438.1 L320.5 420.9 L326.4 403.2 L332.5 384.8 L338.9 365.7 L345.5 345.9 L352.4 325.3 L359.6 303.9" fill="none" stroke="#80d600" stroke-dasharray="3.4 4.9"/>
<path d="M275.2 775.0 L277.9 766.0 L280.7 756.9 L283.5 747.7 L286.4 738.3 L289.4 728.7 L292.4 718.9 L295.4 708.9 L298.6 698.8 L301.8 688.4 L305.0 677.9 L308.4 667.1 L311.8 656.0 L315.3 644.8 L318.9 633.3 L322.5 621.5 L326.3 609.5 L330.1 597.2 L334.1 584.6 L338.1 571.6 L342.3 558.4 L346.5 544.8 L350.9 530.8 L355.5 516.5 L360.1 501.7 L364.9 486.5 L369.9 470.9 L375.0 454.8 L380.3 438.1 L385.8 420.9 L391.5 403.2 L397.4 384.8 L403.5 365.7 L409.9 345.9 L416.5 325.3 L423.5 303.9" fill="none" stroke="#80d600" stroke-dasharray="3.4 4.9"/>
<path d="M318.7 775.0 L321.4 766.0 L324.1 756.9 L326.8 747.7 L329.6 738.3 L332.5 728.7 L335.4 718.9 L338.4 708.9 L341.4 698.8 L344.5 688.4 L347.7 677.9 L350.9 667.1 L354.2 656.0 L357.6 644.8 L361.1 633.3 L364.7 621.5 L368.3 609.5 L372.0 597.2 L375.9 584.6 L379.8 571.6 L383.8 558.4 L388.0 544.8 L392.3 530.8 L396.7 516.5 L401.2 501.7 L405.9 486.5 L410.7 470.9 L415.7 454.8 L420.9 438.1 L426.2 420.9 L431.8 403.2 L437.5 384.8 L443.5 365.7 L449.7 345.9 L456.2 325.3 L462.9 303.9" fill="none" stroke="#80d600" stroke-dasharray="3.4 4.9"/>
<path d="M376.4 775.0 L378.9 766.0 L381.5 756.9 L384.1 747.7 L386.8 738.3 L389.5 728.7 L392.3 718.9 L395.2 708.9 L398.1 698.8 L401.1 688.4 L404.1 677.9 L407.2 667.1 L410.4 656.0 L413.6 644.8 L417.0 633.3 L420.4 621.5 L423.9 609.5 L427.5 597.2 L431.2 584.6 L434.9 571.6 L438.8 558.4 L442.8 544.8 L446.9 530.8 L451.2 516.5 L455.5 501.7 L460.0 486.5 L464.7 470.9 L469.5 454.8 L474.5 438.1 L479.6 420.9 L484.9 403.2 L490.5 384.8 L496.2 365.7 L502.2 345.9 L508.5 325.3 L515.0 303.9" fill="none" stroke="#80d600" stroke-dasharray="3.4 4.9"/>
<path d="M432.3 775.0 L434.7 766.0 L437.2 756.9 L439.7 747.7 L442.2 738.3 L444.9 728.7 L447.5 718.9 L450.3 708.9 L453.0 698.8 L455.9 688.4 L458.8 677.9 L461.8 667.1 L464.8 656.0 L467.9 644.8 L471.1 633.3 L474.4 621.5 L477.7 609.5 L481.2 597.2 L484.7 584.6 L488.3 571.6 L492.1 558.4 L495.9 544.8 L499.9 530.8 L503.9 516.5 L508.1 501.7 L512.4 486.5 L516.9 470.9 L521.5 454.8 L526.3 438.1 L531.3 420.9 L536.4 403.2 L541.7 384.8 L547.3 365.7 L553.1 345.9 L559.1 325.3 L565.4 303.9" fill="none" stroke="#80d600" stroke-dasharray="3.4 4.9"/>
<path d="M482.8 775.0 L485.1 766.0 L487.5 756.9 L489.9 747.7 L492.3 738.3 L494.8 728.7 L497.4 718.9 L500.0 708.9 L502.7 698.8 L505.4 688.4 L508.2 677.9 L511.0 667.1 L514.0 656.0 L516.9 644.8 L520.0 633.3 L523.1 621.5 L526.4 609.5 L529.7 597.2 L533.1 584.6 L536.5 571.6 L540.1 558.4 L543.8 544.8 L547.6 530.8 L551.5 516.5 L555.6 501.7 L559.7 486.5 L564.0 470.9 L568.5 454.8 L573.1 438.1 L577.9 420.9 L582.8 403.2 L588.0 384.8 L593.3 365.7 L598.9 345.9 L604.7 325.3 L610.8 303.9" fill="none" stroke="#80d600" stroke-dasharray="3.4 4.9"/>
<path d="M549.5 775.0 L551.7 766.0 L553.9 756.9 L556.1 747.7 L558.4 738.3 L560.8 728.7 L563.2 718.9 L565.6 708.9 L568.1 698.8 L570.7 688.4 L573.3 677.9 L576.0 667.1 L578.8 656.0 L581.6 644.8 L584.5 633.3 L587.4 621.5 L590.5 609.5 L593.6 597.2 L596.8 584.6 L600.1 571.6 L603.5 558.4 L607.0 544.8 L610.5 530.8 L614.2 516.5 L618.1 501.7 L622.0 486.5 L626.1 470.9 L630.3 454.8 L634.7 438.1 L639.2 420.9 L643.9 403.2 L648.8 384.8 L653.9 365.7 L659.2 345.9 L664.7 325.3 L670.5 303.9" fill="none" stroke="#80d600" stroke-dasharray="3.4 4.9"/>
</g>
<line x1="629.5" y1="52.4" x2="629.5" y2="297.4" stroke="#2a2a2a" stroke-width="1"/>
<line x1="629.5" y1="297.4" x2="759.2" y2="529.6" stroke="#1c1c1c" stroke-width="1.3"/>
<line x1="759.5" y1="529.6" x2="759.5" y2="800.4" stroke="#2a2a2a" stroke-width="1"/>
<line x1="56.8" y1="52.4" x2="56.8" y2="800.4" stroke="#333" stroke-width="1"/>
<line x1="56.8" y1="52.4" x2="629.9" y2="52.4" stroke="#4a3a18" stroke-width="1.2"/>
<line x1="56.8" y1="800.4" x2="759.2" y2="800.4" stroke="#4a3a18" stroke-width="1.2"/>
<text x="44.8" y="58.3" font-size="16.6" fill="#000" text-anchor="end" stroke="#000" stroke-width="0.28" >250</text>
<text x="44.8" y="153.3" font-size="16.6" fill="#000" text-anchor="end" stroke="#000" stroke-width="0.28" >300</text>
<text x="44.8" y="303.3" font-size="16.6" fill="#000" text-anchor="end" stroke="#000" stroke-width="0.28" >400</text>
<text x="44.8" y="419.3" font-size="16.6" fill="#000" text-anchor="end" stroke="#000" stroke-width="0.28" >500</text>
<text x="44.8" y="594.3" font-size="16.6" fill="#000" text-anchor="end" stroke="#000" stroke-width="0.28" >700</text>
<text x="44.8" y="696.3" font-size="16.6" fill="#000" text-anchor="end" stroke="#000" stroke-width="0.28" >850</text>
<text x="44.8" y="780.3" font-size="16.6" fill="#000" text-anchor="end" stroke="#000" stroke-width="0.28" >1000</text>
<text x="14.7" y="443.7" font-size="15.2" fill="#000" text-anchor="middle" transform="rotate(-90.0 14.7 443.7)" stroke="#000" stroke-width="0.28" >P (hPa)</text>
<line x1="86.0" y1="800.4" x2="86.0" y2="806.9" stroke="#222" stroke-width="1"/>
<text x="86.0" y="833.6" font-size="16.3" fill="#000" text-anchor="middle" stroke="#000" stroke-width="0.28" >-30</text>
<line x1="168.2" y1="800.4" x2="168.2" y2="806.9" stroke="#222" stroke-width="1"/>
<text x="168.2" y="833.6" font-size="16.3" fill="#000" text-anchor="middle" stroke="#000" stroke-width="0.28" >-20</text>
<line x1="250.5" y1="800.4" x2="250.5" y2="806.9" stroke="#222" stroke-width="1"/>
<text x="250.5" y="833.6" font-size="16.3" fill="#000" text-anchor="middle" stroke="#000" stroke-width="0.28" >-10</text>
<line x1="332.8" y1="800.4" x2="332.8" y2="806.9" stroke="#222" stroke-width="1"/>
<text x="332.8" y="833.6" font-size="16.3" fill="#000" text-anchor="middle" stroke="#000" stroke-width="0.28" >0</text>
<line x1="415.1" y1="800.4" x2="415.1" y2="806.9" stroke="#222" stroke-width="1"/>
<text x="415.1" y="833.6" font-size="16.3" fill="#000" text-anchor="middle" stroke="#000" stroke-width="0.28" >10</text>
<line x1="497.4" y1="800.4" x2="497.4" y2="806.9" stroke="#222" stroke-width="1"/>
<text x="497.4" y="833.6" font-size="16.3" fill="#000" text-anchor="middle" stroke="#000" stroke-width="0.28" >20</text>
<line x1="579.6" y1="800.4" x2="579.6" y2="806.9" stroke="#222" stroke-width="1"/>
<text x="579.6" y="833.6" font-size="16.3" fill="#000" text-anchor="middle" stroke="#000" stroke-width="0.28" >30</text>
<line x1="661.9" y1="800.4" x2="661.9" y2="806.9" stroke="#222" stroke-width="1"/>
<text x="661.9" y="833.6" font-size="16.3" fill="#000" text-anchor="middle" stroke="#000" stroke-width="0.28" >40</text>
<text x="430.3" y="853.8" font-size="15" fill="#000" text-anchor="middle" stroke="#000" stroke-width="0.28" >Temperature (C)</text>
<text x="56.6" y="49.3" font-size="12" fill="#14b414" text-anchor="middle" stroke="#14b414" stroke-width="0.28" >0.0</text>
<text x="56.6" y="64.8" font-size="12" fill="#000" text-anchor="middle" stroke="#000" stroke-width="0.28" >0.0</text>
<text x="56.6" y="799.2" font-size="12" fill="#14b414" text-anchor="middle" stroke="#14b414" stroke-width="0.28" >0.0</text>
<text x="56.6" y="812.9" font-size="12" fill="#000" text-anchor="middle" stroke="#000" stroke-width="0.28" >0.0</text>
<text x="87.3" y="49.3" font-size="12" fill="#14b414" text-anchor="middle" stroke="#14b414" stroke-width="0.28" >0.5</text>
<text x="87.3" y="64.8" font-size="12" fill="#000" text-anchor="middle" stroke="#000" stroke-width="0.28" >0.5</text>
<text x="87.3" y="799.2" font-size="12" fill="#14b414" text-anchor="middle" stroke="#14b414" stroke-width="0.28" >0.5</text>
<text x="87.3" y="812.9" font-size="12" fill="#000" text-anchor="middle" stroke="#000" stroke-width="0.28" >0.5</text>
<line x1="86.5" y1="800.4" x2="86.5" y2="806.9" stroke="#222" stroke-width="1"/>
<text x="117.6" y="49.3" font-size="12" fill="#14b414" text-anchor="middle" stroke="#14b414" stroke-width="0.28" >1.0</text>
<text x="117.6" y="64.8" font-size="12" fill="#000" text-anchor="middle" stroke="#000" stroke-width="0.28" >1.0</text>
<text x="117.6" y="799.2" font-size="12" fill="#14b414" text-anchor="middle" stroke="#14b414" stroke-width="0.28" >1.0</text>
<text x="117.6" y="812.9" font-size="12" fill="#000" text-anchor="middle" stroke="#000" stroke-width="0.28" >1.0</text>
<line x1="116.8" y1="800.4" x2="116.8" y2="806.9" stroke="#222" stroke-width="1"/>
<text x="133.2" y="799.2" font-size="12.3" fill="#14b414" text-anchor="start" stroke="#14b414" stroke-width="0.28" >CloudWater (g/Kg)</text>
<text x="133.2" y="812.9" font-size="12.3" fill="#000" text-anchor="start" stroke="#000" stroke-width="0.28" >Grid-Scale Cloudiness</text>
<line x1="56.9" y1="80" x2="56.9" y2="777.6" stroke="#14aa14" stroke-width="2.2"/>
<path d="M56.9 117.5 L63.9 80.5" stroke="#111" stroke-width="1.6" fill="none"/>
<circle cx="52.3" cy="23.3" r="3.6" fill="#000"/>
<text x="63.0" y="30.6" font-size="20.3" fill="#000" text-anchor="start" stroke="#000" stroke-width="0.28" >NZWR</text>
<text x="130.0" y="27.6" font-size="12.7" fill="#000" text-anchor="start" stroke="#000" stroke-width="0.28" >-35.769°,174.363° (31,79)</text>
<text x="295.0" y="30.6" font-size="20.6" fill="#000" text-anchor="start" stroke="#000" stroke-width="0.28" textLength="156" lengthAdjust="spacingAndGlyphs">Valid 1900 NZDT</text>
<text x="457.5" y="29.0" font-size="15.3" fill="#000" text-anchor="start" stroke="#000" stroke-width="0.28" >(0600Z)</text>
<text x="517.2" y="30.6" font-size="20.3" fill="#000" text-anchor="start" stroke="#000" stroke-width="0.28" >THU 27 Nov 2025</text>
<text x="687.2" y="29.0" font-size="15.4" fill="#000" text-anchor="start" stroke="#000" stroke-width="0.28" >[18hrFcst@1651z]</text>
<text x="290.0" y="48.0" font-size="12.3" fill="#b4144f" text-anchor="start" stroke="#b4144f" stroke-width="0.55" textLength="282.5" lengthAdjust="spacingAndGlyphs">Plcl=892 Tlcl[C]=13 Shox=2 Pwat[cm]=4 Cape[J]= 4</text>
<text transform="translate(639.3 200.9) rotate(-45.0) scale(0.92 1)" font-size="19" fill="#ffa800" stroke="#ffa800" stroke-width="0.3" text-anchor="middle" dominant-baseline="central" letter-spacing="2.04" dx="1.02">0</text>
<text transform="translate(662.2 320.4) rotate(-45.0) scale(0.92 1)" font-size="19" fill="#ffa800" stroke="#ffa800" stroke-width="0.3" text-anchor="middle" dominant-baseline="central" letter-spacing="2.04" dx="1.02">10</text>
<text transform="translate(703.2 398.0) rotate(-45.0) scale(0.92 1)" font-size="19" fill="#ffa800" stroke="#ffa800" stroke-width="0.3" text-anchor="middle" dominant-baseline="central" letter-spacing="2.04" dx="1.02">20</text>
<text transform="translate(746.5 475.4) rotate(-45.0) scale(0.92 1)" font-size="19" fill="#ffa800" stroke="#ffa800" stroke-width="0.3" text-anchor="middle" dominant-baseline="central" letter-spacing="2.04" dx="1.02">30</text>
<text transform="translate(65.2 141.9) rotate(52.0) scale(0.80 1)" font-size="13" fill="#ffa800" stroke="#ffa800" stroke-width="0.3" text-anchor="middle" dominant-baseline="central" letter-spacing="3.02" dx="1.51">10</text>
<text transform="translate(66.0 288.0) rotate(52.0) scale(0.80 1)" font-size="13" fill="#ffa800" stroke="#ffa800" stroke-width="0.3" text-anchor="middle" dominant-baseline="central" letter-spacing="3.02" dx="1.51">0</text>
<text transform="translate(66.3 431.0) rotate(52.0) scale(0.80 1)" font-size="13" fill="#ffa800" stroke="#ffa800" stroke-width="0.3" text-anchor="middle" dominant-baseline="central" letter-spacing="3.02" dx="1.51">-10</text>
<text transform="translate(65.5 570.6) rotate(52.0) scale(0.80 1)" font-size="13" fill="#ffa800" stroke="#ffa800" stroke-width="0.3" text-anchor="middle" dominant-baseline="central" letter-spacing="3.02" dx="1.51">-20</text>
<text transform="translate(65.0 712.5) rotate(52.0) scale(0.80 1)" font-size="13" fill="#ffa800" stroke="#ffa800" stroke-width="0.3" text-anchor="middle" dominant-baseline="central" letter-spacing="3.02" dx="1.51">-30</text>
<text transform="translate(202.2 788.5) rotate(-75.0) scale(0.80 1)" font-size="14" fill="#80d600" stroke="#80d600" stroke-width="0.3" text-anchor="middle" dominant-baseline="central" letter-spacing="2.97" dx="1.48">1</text>
<text transform="translate(272.2 787.5) rotate(-75.0) scale(0.80 1)" font-size="14" fill="#80d600" stroke="#80d600" stroke-width="0.3" text-anchor="middle" dominant-baseline="central" letter-spacing="2.97" dx="1.48">2</text>
<text transform="translate(315.5 787.5) rotate(-75.0) scale(0.80 1)" font-size="14" fill="#80d600" stroke="#80d600" stroke-width="0.3" text-anchor="middle" dominant-baseline="central" letter-spacing="2.97" dx="1.48">3</text>
<text transform="translate(372.2 787.3) rotate(-75.0) scale(0.80 1)" font-size="14" fill="#80d600" stroke="#80d600" stroke-width="0.3" text-anchor="middle" dominant-baseline="central" letter-spacing="2.97" dx="1.48">5</text>
<text transform="translate(428.8 787.0) rotate(-75.0) scale(0.80 1)" font-size="14" fill="#80d600" stroke="#80d600" stroke-width="0.3" text-anchor="middle" dominant-baseline="central" letter-spacing="2.97" dx="1.48">8</text>
<text transform="translate(480.3 787.3) rotate(-75.0) scale(0.80 1)" font-size="14" fill="#80d600" stroke="#80d600" stroke-width="0.3" text-anchor="middle" dominant-baseline="central" letter-spacing="2.97" dx="1.48">12</text>
<text transform="translate(546.0 787.3) rotate(-75.0) scale(0.80 1)" font-size="14" fill="#80d600" stroke="#80d600" stroke-width="0.3" text-anchor="middle" dominant-baseline="central" letter-spacing="2.97" dx="1.48">20</text>
<path d="M479.0 647.9 L481.4 664.9" fill="none" stroke="#6e0a78" stroke-width="1.8" stroke-dasharray="5 2.2"/>
<path d="M299.2 80.3 L316.5 116.8 L332.5 155.1 L336.2 189.7 L321.9 221.8 L296.7 247.7 L275.7 270.0 L255.9 292.6 L289.3 337.1 L343.6 381.0 L383.2 428.0 L410.5 466.9 L429.0 501.5 L436.5 531.2 L445.1 570.7" fill="none" stroke="#0064ff" stroke-width="2.7" stroke-linejoin="round" stroke-linecap="round"/>
<path d="M445.1 570.7 C447.0 575.2 452.8 590.0 456.2 597.9 C459.6 605.8 464.1 612.7 465.6 617.9 C467.1 623.1 465.7 625.8 465.0 629.3 C464.3 632.8 460.7 635.5 461.4 638.6 C462.1 641.7 467.5 645.0 469.4 647.9 C471.3 650.8 472.4 653.1 472.9 655.9 C473.3 658.7 473.0 661.0 472.1 664.7 C471.2 668.4 468.8 673.2 467.6 677.9 C466.4 682.6 466.0 686.9 465.0 692.9 C464.0 698.9 462.5 707.0 461.5 714.1 C460.5 721.2 459.4 729.4 458.8 735.3 C458.2 741.2 458.0 745.0 457.9 749.4 C457.8 753.8 457.9 758.4 458.3 761.8 C458.7 765.2 459.2 767.5 460.2 769.7 C461.2 771.9 462.6 773.7 464.1 775.0 C465.6 776.3 468.1 776.8 469.4 777.3 C470.6 777.8 471.2 777.7 471.6 777.8" fill="none" stroke="#0064ff" stroke-width="2.7" stroke-linejoin="round" stroke-linecap="round"/>
<path d="M333.3 80.3 L348.6 111.9 L364.6 146.5 L378.2 181.0 L388.1 208.2 L400.5 239.1 L405.4 253.9 L408.0 270.0 L412.8 297.0 L417.7 336.6 L427.6 381.0 L437.7 420.0 L445.1 452.1 L458.7 499.0 L473.5 536.1 L483.4 563.3" fill="none" stroke="#f2000c" stroke-width="3.0" stroke-linejoin="round" stroke-linecap="round"/>
<path d="M483.4 563.3 C484.0 567.4 486.3 580.2 487.1 588.0 C487.9 595.8 488.1 604.2 488.3 610.2 C488.5 616.2 488.5 619.1 488.4 624.0 C488.3 628.9 488.0 636.8 487.9 639.4" fill="none" stroke="#f2000c" stroke-width="3.0" stroke-linejoin="round" stroke-linecap="round"/>
<path d="M487.9 639.6 L476.5 647.6" fill="none" stroke="#f2000c" stroke-width="3.0" stroke-linejoin="round" stroke-linecap="round"/>
<path d="M476.5 647.6 C476.4 649.1 475.2 653.4 476.1 656.8 C477.0 660.2 479.8 664.4 481.8 668.2 C483.8 672.0 485.8 675.6 487.9 679.7 C489.9 683.8 491.6 687.9 494.1 692.9 C496.6 697.9 499.4 703.8 502.9 709.7 C506.4 715.6 511.2 721.9 515.3 728.2 C519.4 734.5 523.8 742.0 527.6 747.6 C531.4 753.2 535.5 758.1 538.2 761.8 C540.9 765.5 542.9 767.8 544.0 769.7 C545.1 771.6 545.1 772.4 544.7 773.4 C544.3 774.4 543.5 775.2 541.8 775.9 C540.1 776.6 535.9 777.3 534.7 777.6" fill="none" stroke="#f2000c" stroke-width="3.0" stroke-linejoin="round" stroke-linecap="round"/>
<circle cx="472.1" cy="777.7" r="3.7" fill="#0064ff"/>
<circle cx="517.8" cy="778.2" r="3.7" fill="#ff0000"/>
<line x1="713.5" y1="51.9" x2="713.5" y2="800.4" stroke="#222" stroke-width="1"/>
<path d="M782.8 80.3 L780.8 120.7 L777.0 156.3 L774.6 190.5 L768.5 221.3 L760.2 254.2 L754.9 293.4 L760.6 336.4 L761.5 382.2 L754.1 426.9 L744.8 466.8 L735.5 500.2 L733.6 528.3 L734.7 550.6 L738.3 568.4 L742.5 582.4 L747.6 594.9 L752.3 607.1 L754.9 617.9 L755.4 628.3 L751.9 638.9 L751.8 648.6 L753.3 657.1 L750.9 665.4 L745.5 673.8 L740.4 682.1 L736.5 689.8 L734.5 697.3 L734.4 705.8 L735.2 712.2 L737.0 719.4 L738.6 726.2 L740.1 733.0 L741.2 740.3 L742.0 746.5 L742.4 752.6 L742.6 758.1 L742.2 764.0 L741.4 768.8 L740.0 773.1 L736.8 776.6 L735.5 777.6" fill="none" stroke="#32c832" stroke-width="1.35" stroke-linejoin="round"/>
<path d="M713.5 80.3 L682.5 75.6 M682.5 75.6 L679.2 65.5 M685.6 76.1 L682.2 66.0 M688.6 76.5 L685.3 66.5 M713.5 120.7 L683.1 114.0 M683.1 114.0 L680.4 103.7 M686.1 114.7 L683.5 104.4 M689.2 115.3 L686.5 105.1 M713.5 156.3 L684.3 147.9 M684.3 147.9 L682.3 137.5 M687.3 148.8 L685.3 138.4 M690.3 149.6 L688.2 139.2 M713.5 190.5 L684.3 177.4 M684.3 177.4 L683.8 166.8 M687.1 178.7 L686.6 168.1 M690.0 179.9 L689.7 174.6 M713.5 221.3 L685.2 207.4 M685.2 207.4 L685.0 196.8 M688.0 208.8 L687.8 198.2 M690.8 210.1 L690.7 204.8 M713.5 254.2 L684.3 241.6 M684.3 241.6 L683.6 231.0 M687.1 242.8 L686.5 232.2 M713.5 293.4 L683.1 288.7 M683.1 288.7 L679.8 278.6 M686.2 289.2 L682.9 279.1 M713.5 336.4 L683.1 343.3 M683.1 343.3 L676.3 335.2 M686.1 342.6 L679.3 334.5 M713.5 382.2 L683.5 393.6 M683.5 393.6 L675.6 386.5 M686.4 392.5 L678.5 385.4 M713.5 426.9 L686.2 440.4 M686.2 440.4 L677.7 434.1 M689.0 439.0 L684.7 435.9 M713.5 466.8 L687.5 483.9 M687.5 483.9 L678.3 478.7 M690.1 482.2 L685.5 479.6 M713.5 500.2 L690.0 521.1 M690.0 521.1 L680.1 517.2 M713.5 528.3 L689.7 548.5 M689.7 548.5 L679.9 544.4 M713.5 550.6 L687.5 568.1 M687.5 568.1 L678.2 563.0 M713.5 568.4 L685.6 581.1 M685.6 581.1 L677.3 574.5 M713.5 582.4 L685.6 592.4 M685.6 592.4 L677.9 585.1 M688.5 591.4 L684.7 587.7 M713.5 594.9 L685.0 604.2 M685.0 604.2 L677.5 596.7 M687.9 603.2 L684.2 599.5 M713.5 607.1 L685.0 615.4 M685.0 615.4 L677.7 607.7 M688.0 614.5 L684.3 610.7 M713.5 617.9 L684.6 625.9 M684.6 625.9 L677.4 618.1 M687.6 625.1 L680.4 617.3 M713.5 628.3 L685.5 635.6 M685.5 635.6 L678.5 627.7 M688.5 634.8 L681.5 626.9 M713.5 638.9 L685.8 640.6 M685.8 640.6 L680.4 631.5 M688.9 640.4 L683.5 631.3 M713.5 648.6 L684.6 639.8 M684.6 639.8 L682.7 629.4 M687.6 640.7 L685.7 630.3 M713.5 657.1 L684.6 643.9 M684.6 643.9 L684.1 633.3 M687.4 645.2 L687.2 639.9 M713.5 665.4 L684.1 654.5 M684.1 654.5 L682.9 644.0 M687.0 655.6 L686.4 650.3 M713.5 673.8 L684.3 666.1 M684.3 666.1 L682.1 655.7 M687.3 666.9 L686.2 661.7 M713.5 682.1 L681.8 678.6 M681.8 678.6 L678.1 668.7 M713.5 689.8 L682.5 692.9 M682.5 692.9 L676.8 684.0 M713.5 697.3 L684.3 707.3 M684.3 707.3 L676.7 699.9 M713.5 705.8 L685.6 720.0 M685.6 720.0 L677.0 713.8 M713.5 712.2 L688.7 730.5 M688.7 730.5 L679.2 725.8 M713.5 719.4 L690.6 740.5 M690.6 740.5 L680.7 736.8 M713.5 726.2 L693.1 749.3 M693.1 749.3 L682.8 746.7 M713.5 733.0 L694.3 757.4 M694.3 757.4 L683.9 755.3 M713.5 740.3 L696.2 766.1 M696.2 766.1 L685.7 764.8 M713.5 746.5 L698.9 773.9 M698.9 773.9 L688.3 773.7 M700.4 771.2 L695.1 771.1 M713.5 752.6 L701.6 781.3 M701.6 781.3 L691.0 782.1 M702.8 778.4 L697.5 778.9 M713.5 758.1 L704.7 787.9 M704.7 787.9 L694.3 789.8 M705.6 784.9 L700.4 785.9 M713.5 764.0 L707.6 794.5 M707.6 794.5 L697.4 797.4 M708.2 791.5 L703.1 792.9 M713.5 768.8 L712.1 799.8 M712.1 799.8 L702.4 804.2 M713.5 773.1 L715.6 804.0 M715.6 804.0 L706.5 809.4 M713.5 776.6 L720.4 806.8 M720.4 806.8 L712.3 813.6 M713.5 777.2 L725.3 805.6 M725.3 805.6 L718.4 813.7" fill="none" stroke="#161616" stroke-width="1.3" stroke-linecap="round"/>
<text x="713.2" y="65.8" font-size="11.5" fill="#14b414" text-anchor="middle" font-weight="bold" stroke="#14b414" stroke-width="0.28" >0</text>
<text x="713.2" y="799.2" font-size="11.5" fill="#14b414" text-anchor="middle" font-weight="bold" stroke="#14b414" stroke-width="0.28" >0</text>
<text x="758.7" y="65.8" font-size="11.5" fill="#14b414" text-anchor="middle" font-weight="bold" stroke="#14b414" stroke-width="0.28" >20</text>
<text x="758.7" y="799.2" font-size="11.5" fill="#14b414" text-anchor="middle" font-weight="bold" stroke="#14b414" stroke-width="0.28" >20</text>
<text x="804.4" y="65.8" font-size="11.5" fill="#14b414" text-anchor="middle" font-weight="bold" stroke="#14b414" stroke-width="0.28" >40</text>
<text x="804.4" y="799.2" font-size="11.5" fill="#14b414" text-anchor="middle" font-weight="bold" stroke="#14b414" stroke-width="0.28" >40</text>
<text x="843.5" y="65.8" font-size="11.5" fill="#14b414" text-anchor="start" font-weight="bold" stroke="#14b414" stroke-width="0.28" >60</text>
<text x="843.5" y="799.2" font-size="11.5" fill="#14b414" text-anchor="start" font-weight="bold" stroke="#14b414" stroke-width="0.28" >60</text>
<text x="732.5" y="812.8" font-size="12.2" fill="#14b414" text-anchor="start" stroke="#14b414" stroke-width="0.28" >Speed (kt)</text>
<line x1="804.3" y1="51.9" x2="804.3" y2="800.4" stroke="#000" stroke-width="2"/>
<line x1="804.3" y1="781.2" x2="813.8" y2="781.2" stroke="#222" stroke-width="1"/>
<text x="824.6" y="787.1" font-size="16.4" fill="#000" text-anchor="start" stroke="#000" stroke-width="0.28" >0</text>
<line x1="804.3" y1="743.5" x2="813.8" y2="743.5" stroke="#222" stroke-width="1"/>
<text x="824.6" y="749.4" font-size="16.4" fill="#000" text-anchor="start" stroke="#000" stroke-width="0.28" >2</text>
<line x1="804.3" y1="705.2" x2="813.8" y2="705.2" stroke="#222" stroke-width="1"/>
<text x="824.6" y="711.1" font-size="16.4" fill="#000" text-anchor="start" stroke="#000" stroke-width="0.28" >4</text>
<line x1="804.3" y1="666.2" x2="813.8" y2="666.2" stroke="#222" stroke-width="1"/>
<text x="824.6" y="672.1" font-size="16.4" fill="#000" text-anchor="start" stroke="#000" stroke-width="0.28" >6</text>
<line x1="804.3" y1="626.6" x2="813.8" y2="626.6" stroke="#222" stroke-width="1"/>
<text x="824.6" y="632.5" font-size="16.4" fill="#000" text-anchor="start" stroke="#000" stroke-width="0.28" >8</text>
<line x1="804.3" y1="586.2" x2="813.8" y2="586.2" stroke="#222" stroke-width="1"/>
<text x="824.6" y="592.1" font-size="16.4" fill="#000" text-anchor="start" stroke="#000" stroke-width="0.28" >10</text>
<line x1="804.3" y1="545.2" x2="813.8" y2="545.2" stroke="#222" stroke-width="1"/>
<text x="824.6" y="551.1" font-size="16.4" fill="#000" text-anchor="start" stroke="#000" stroke-width="0.28" >12</text>
<line x1="804.3" y1="504.6" x2="813.8" y2="504.6" stroke="#222" stroke-width="1"/>
<text x="824.6" y="510.5" font-size="16.4" fill="#000" text-anchor="start" stroke="#000" stroke-width="0.28" >14</text>
<line x1="804.3" y1="462.6" x2="813.8" y2="462.6" stroke="#222" stroke-width="1"/>
<text x="824.6" y="468.5" font-size="16.4" fill="#000" text-anchor="start" stroke="#000" stroke-width="0.28" >16</text>
<line x1="804.3" y1="419.5" x2="813.8" y2="419.5" stroke="#222" stroke-width="1"/>
<text x="824.6" y="425.4" font-size="16.4" fill="#000" text-anchor="start" stroke="#000" stroke-width="0.28" >18</text>
<line x1="804.3" y1="376.6" x2="813.8" y2="376.6" stroke="#222" stroke-width="1"/>
<text x="824.6" y="382.5" font-size="16.4" fill="#000" text-anchor="start" stroke="#000" stroke-width="0.28" >20</text>
<line x1="804.3" y1="331.6" x2="813.8" y2="331.6" stroke="#222" stroke-width="1"/>
<text x="824.6" y="337.5" font-size="16.4" fill="#000" text-anchor="start" stroke="#000" stroke-width="0.28" >22</text>
<line x1="804.3" y1="287.3" x2="813.8" y2="287.3" stroke="#222" stroke-width="1"/>
<text x="824.6" y="293.2" font-size="16.4" fill="#000" text-anchor="start" stroke="#000" stroke-width="0.28" >24</text>
<line x1="804.3" y1="242.0" x2="813.8" y2="242.0" stroke="#222" stroke-width="1"/>
<text x="824.6" y="247.9" font-size="16.4" fill="#000" text-anchor="start" stroke="#000" stroke-width="0.28" >26</text>
<line x1="804.3" y1="195.1" x2="813.8" y2="195.1" stroke="#222" stroke-width="1"/>
<text x="824.6" y="201.0" font-size="16.4" fill="#000" text-anchor="start" stroke="#000" stroke-width="0.28" >28</text>
<line x1="804.3" y1="148.2" x2="813.8" y2="148.2" stroke="#222" stroke-width="1"/>
<text x="824.6" y="154.1" font-size="16.4" fill="#000" text-anchor="start" stroke="#000" stroke-width="0.28" >30</text>
<line x1="804.3" y1="99.9" x2="813.8" y2="99.9" stroke="#222" stroke-width="1"/>
<text x="824.6" y="105.8" font-size="16.4" fill="#000" text-anchor="start" stroke="#000" stroke-width="0.28" >32</text>
<text x="774.4" y="426.5" font-size="16.8" fill="#000" text-anchor="middle" transform="rotate(90.0 774.4 426.5)" stroke="#000" stroke-width="0.28" >Height (1000 Feet)</text>
</svg>
</body></html>
